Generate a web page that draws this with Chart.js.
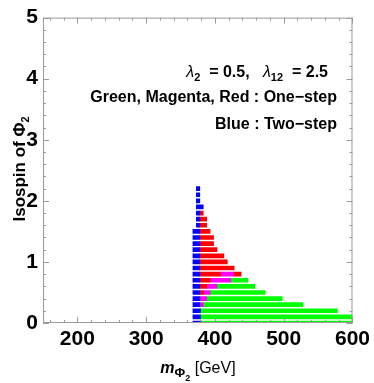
<!DOCTYPE html>
<html>
<head>
<meta charset="utf-8">
<script src="https://cdn.jsdelivr.net/npm/chart.js@4/dist/chart.umd.min.js"></script>
<style>
  html, body { margin: 0; padding: 0; background: #fff; }
  #wrap { width: 374px; height: 383px; }
</style>
</head>
<body>
<div id="wrap"><canvas id="chart" width="374" height="383"></canvas></div>
<script>
const isospin = [0, 0.1, 0.2, 0.3, 0.4, 0.5, 0.6, 0.7, 0.8, 0.9, 1.0, 1.1, 1.2, 1.3, 1.4, 1.5, 1.6, 1.7, 1.8, 1.9, 2.0, 2.1, 2.2];
// [start, end] in GeV of each coloured run, one entry per isospin row (null = none)
const blueRuns = [[368,379],[368,379],[368,379],[368,378],[368,378],[368,378],[368,378],[368,378],[368,378],[368,378],[368,378],[368,378],[368,378],[368,378],[368,378],[368,378],[373,378],[373,378],[373,378],[373,383],[373,378],[373,378],[373,378]];
const redRuns = [null,null,null,null,null,[378,383],[378,388],[378,393],[378,408],[378,428],[378,418],[378,413],[378,403],[378,398],[378,398],[378,393],[378,388],[378,388],[378,383],null,null,null,null];
const redOuterRuns = [null,null,null,null,null,null,null,null,[428,438],null,null,null,null,null,null,null,null,null,null,null,null,null,null];
const magentaRuns = [null,null,null,[378,383],[378,388],[383,393],[388,403],[393,423],[408,428],null,null,null,null,null,null,null,null,null,null,null,null,null,null];
const greenRuns = [[379,600],[379,600],[379,578],[383,528],[388,498],[393,473],[403,458],[423,448],null,null,null,null,null,null,null,null,null,null,null,null,null,null,null];

const xTicks = [200, 300, 400, 500, 600];
const yTicks = [0, 1, 2, 3, 4, 5];

function runsToData(...lists) {
  const out = [];
  lists.forEach(list => list.forEach((r, i) => { if (r) out.push({ y: isospin[i], x: r }); }));
  return out;
}

const barStyle = { barThickness: 4, borderWidth: 0, grouped: false };

// draws a run of text pieces with different fonts / offsets
function richWidth(ctx, parts) {
  let w = 0;
  parts.forEach(p => { ctx.font = p.font; w += ctx.measureText(p.t).width; });
  return w;
}
function drawRich(ctx, parts, x, y, align) {
  let cx = x;
  const w = richWidth(ctx, parts);
  if (align === 'right') cx = x - w;
  else if (align === 'center') cx = x - w / 2;
  ctx.textAlign = 'left';
  ctx.textBaseline = 'alphabetic';
  parts.forEach(p => {
    ctx.font = p.font;
    ctx.fillText(p.t, cx, y + (p.dy || 0));
    cx += ctx.measureText(p.t).width;
  });
}

const FF = '"Liberation Sans", Arial, sans-serif';

const framePlugin = {
  id: 'frame',
  afterDatasetsDraw(chart) {
    const { ctx, chartArea: a, scales: { x, y } } = chart;
    ctx.save();
    ctx.strokeStyle = '#9a9a9a';
    ctx.lineWidth = 1;
    ctx.strokeRect(a.left + 0.5, a.top + 0.5, a.right - a.left - 1, a.bottom - a.top - 1);
    ctx.beginPath();
    for (let v = 160; v <= 600; v += 20) {
      const px = Math.round(x.getPixelForValue(v)) + 0.5;
      const len = v % 100 === 0 ? 6 : 3;
      ctx.moveTo(px, a.bottom); ctx.lineTo(px, a.bottom - len);
      ctx.moveTo(px, a.top); ctx.lineTo(px, a.top + len);
    }
    for (let k = 0; k <= 25; k++) {
      const v = k / 5;
      const py = Math.round(y.getPixelForValue(v)) + 0.5;
      const len = k % 5 === 0 ? 6 : 3;
      ctx.moveTo(a.left, py); ctx.lineTo(a.left + len, py);
      ctx.moveTo(a.right, py); ctx.lineTo(a.right - len, py);
    }
    ctx.stroke();
    ctx.restore();
  },
  afterDraw(chart) {
    const { ctx } = chart;
    ctx.save();
    ctx.fillStyle = '#000';
    const b = 'bold 16px ' + FF, it = 'italic 16px ' + FF, sub = 'bold 11px ' + FF;
    drawRich(ctx, [
      { t: 'λ', font: it }, { t: '2', font: sub, dy: 4 }, { t: '  = 0.5,   ', font: b },
      { t: 'λ', font: it }, { t: '12', font: sub, dy: 4 }, { t: '  = 2.5', font: b }
    ], 328, 77, 'right');
    drawRich(ctx, [{ t: 'Green, Magenta, Red : One−step', font: b }], 337, 102, 'right');
    drawRich(ctx, [{ t: 'Blue : Two−step', font: b }], 337, 129, 'right');

    // x axis title
    drawRich(ctx, [
      { t: 'm', font: 'bold italic 16px ' + FF },
      { t: 'Φ', font: 'bold 13px ' + FF, dy: 4 },
      { t: '2', font: 'bold 9px ' + FF, dy: 8 },
      { t: ' [GeV]', font: '16px ' + FF }
    ], 198, 373, 'center');

    // y axis title
    ctx.translate(25, 169);
    ctx.rotate(-Math.PI / 2);
    drawRich(ctx, [
      { t: 'Isospin of Φ', font: 'bold 17px ' + FF },
      { t: '2', font: 'bold 11px ' + FF, dy: 4 }
    ], 0, 0, 'center');
    ctx.restore();
  }
};

new Chart(document.getElementById('chart'), {
  type: 'bar',
  data: {
    datasets: [
      { label: 'Two-step', data: runsToData(blueRuns), backgroundColor: '#0000ff', ...barStyle },
      { label: 'Red', data: runsToData(redRuns, redOuterRuns), backgroundColor: '#ff0000', ...barStyle },
      { label: 'Magenta', data: runsToData(magentaRuns), backgroundColor: '#ff00ff', ...barStyle },
      { label: 'Green', data: runsToData(greenRuns), backgroundColor: '#00ff00', ...barStyle }
    ]
  },
  options: {
    indexAxis: 'y',
    responsive: false,
    animation: false,
    layout: { padding: { top: 14, right: 20, left: 0, bottom: 0 } },
    plugins: { legend: { display: false }, tooltip: { enabled: false } },
    scales: {
      x: {
        type: 'linear', min: 150, max: 600, bounds: 'data',
        grid: { display: false, drawTicks: false }, border: { display: false },
        afterFit: s => { s.height = 60; },
        afterBuildTicks: s => { s.ticks = xTicks.map(v => ({ value: v })); },
        ticks: {
          autoSkip: false, maxRotation: 0, padding: 4, color: '#000',
          font: { family: FF, size: 21, weight: 'bold', lineHeight: 1.2 }
        }
      },
      y: {
        type: 'linear', min: 0, max: 5, offset: false,
        grid: { display: false, offset: false, drawTicks: false }, border: { display: false },
        afterFit: s => { s.width = 43; },
        afterBuildTicks: s => { s.ticks = yTicks.map(v => ({ value: v })); },
        ticks: {
          autoSkip: false, padding: 5, color: '#000',
          font: { family: FF, size: 21, weight: 'bold' }
        }
      }
    }
  },
  plugins: [framePlugin]
});
</script>
</body>
</html>
